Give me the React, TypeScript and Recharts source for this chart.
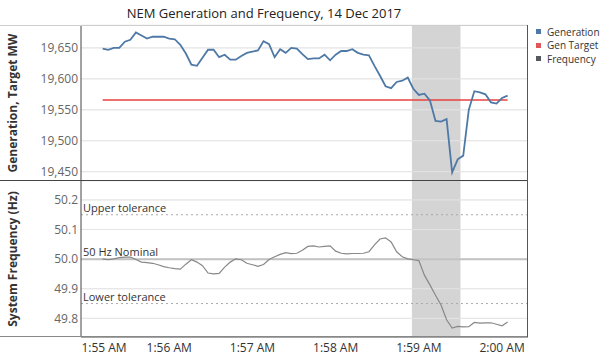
import React from 'react';
import {
  LineChart,
  Line,
  XAxis,
  YAxis,
  CartesianGrid,
  ReferenceArea,
  ReferenceLine,
  Legend,
} from 'recharts';

// seconds after 1:55:00 AM, 4-second SCADA samples
const SECONDS = [
  12, 16, 20, 24, 28, 32, 36, 40, 44, 48, 52, 56, 60, 64, 68, 72, 76, 80, 84, 88,
  92, 96, 100, 104, 108, 112, 116, 120, 124, 128, 132, 136, 140, 144, 148, 152, 156, 160, 164, 168,
  172, 176, 180, 184, 188, 192, 196, 200, 204, 208, 212, 216, 220, 224, 228, 232, 236, 240, 244, 248,
  252, 256, 260, 264, 268, 272, 276, 280, 284, 288, 292, 296, 300, 304,
];

const GENERATION = [
  19649, 19647, 19650, 19650, 19660, 19663, 19675, 19670, 19665, 19668, 19668, 19668, 19665, 19664,
  19655, 19641, 19623, 19621, 19634, 19647, 19647, 19635, 19639, 19631, 19631, 19637,
  19642, 19644, 19646, 19661, 19656, 19635, 19648, 19642, 19650, 19649, 19640, 19632, 19633, 19633,
  19639, 19630, 19639, 19645, 19645, 19648, 19642, 19639, 19638,
  19621, 19605,
  19588, 19585, 19595, 19597, 19602, 19584, 19574, 19576, 19565, 19532, 19531, 19535, 19449, 19470,
  19476, 19550, 19580, 19578, 19575, 19562, 19560, 19569, 19573,
];

const GEN_TARGET = 19566;

const FREQUENCY = [
  50.001, 49.998, 50.001, 50.005, 50.007, 50.007, 49.999, 49.99, 49.988, 49.986, 49.981, 49.975, 49.971, 49.968,
  49.966, 49.983, 49.998, 49.99, 49.978, 49.953, 49.95, 49.952, 49.973, 49.99, 50.001, 49.998, 49.986, 49.981,
  49.976, 49.982, 49.999, 50.008, 50.016, 50.022, 50.019, 50.02, 50.03, 50.043, 50.045, 50.041, 50.043, 50.045,
  50.027, 50.02, 50.018, 50.019, 50.019, 50.02, 50.025, 50.048, 50.068, 50.072, 50.058, 50.025, 50.008, 50.001,
  49.998, 49.995, 49.946, 49.913, 49.878, 49.845, 49.795, 49.767, 49.773, 49.771, 49.772, 49.786, 49.784, 49.785,
  49.785, 49.78, 49.775, 49.788,
];

const TIME_TICKS = [0, 60, 120, 180, 240, 300];
const TIME_LABELS = ['1:55 AM', '1:56 AM', '1:57 AM', '1:58 AM', '1:59 AM', '2:00 AM'];
const GEN_TICKS = [19450, 19500, 19550, 19600, 19650];
const FREQ_TICKS = [49.8, 49.9, 50.0, 50.1, 50.2];
const EVENT_WINDOW = [235, 270];
const TOLERANCES = [
  { value: 50.15, label: 'Upper tolerance', dashed: true },
  { value: 50.0, label: '50 Hz Nominal', dashed: false },
  { value: 49.85, label: 'Lower tolerance', dashed: true },
];

const LEGEND = [
  { name: 'Generation', color: '#4e79a7' },
  { name: 'Gen Target', color: '#e15759' },
  { name: 'Frequency', color: '#555a60' },
];

const rows = SECONDS.map((t, i) => ({
  t,
  gen: GENERATION[i],
  target: GEN_TARGET,
  freq: FREQUENCY[i],
}));

const FONT = '"Open Sans", sans-serif';
const X_DOMAIN = [-3.6, 318.7];

const axisTitle = (text: string) => (props: any) => {
  const { viewBox } = props;
  const cx = 12;
  const cy = viewBox.y + viewBox.height / 2;
  return (
    <text
      x={cx}
      y={cy}
      transform={`rotate(-90 ${cx} ${cy})`}
      textAnchor="middle"
      dominantBaseline="central"
      fontSize={12}
      fontWeight="bold"
      fill="#333"
      fontFamily={FONT}
    >
      {text}
    </text>
  );
};

const refLabel = (text: string) => (props: any) => {
  const { viewBox } = props;
  return (
    <text x={viewBox.x + 2} y={viewBox.y - 3} fontSize={11} fill="#333" fontFamily={FONT}>
      {text}
    </text>
  );
};

const TimeTick = (props: any) => {
  const { x, y, payload } = props;
  const idx = TIME_TICKS.indexOf(payload.value);
  return (
    <text
      x={x + (idx === 0 ? 18 : 0)}
      y={y + 13}
      textAnchor="middle"
      fontSize={12}
      fill="#333"
      fontFamily={FONT}
    >
      {TIME_LABELS[idx]}
    </text>
  );
};

const LegendBox = () => (
  <div style={{ fontFamily: FONT, fontSize: 10, color: '#333', whiteSpace: 'nowrap' }}>
    {LEGEND.map((item) => (
      <div key={item.name} style={{ display: 'flex', alignItems: 'center', height: 13.5 }}>
        <span style={{ width: 5, height: 5, background: item.color, marginRight: 6, flexShrink: 0 }} />
        {item.name}
      </div>
    ))}
  </div>
);

const line = (style: React.CSSProperties) => (
  <div style={{ position: 'absolute', ...style }} />
);

export default function App() {
  return (
    <div
      style={{
        position: 'absolute',
        left: 0,
        top: 0,
        width: 602,
        height: 356,
        background: '#fff',
        fontFamily: FONT,
        overflow: 'hidden',
      }}
    >
      <div
        style={{
          position: 'absolute',
          left: 0,
          width: 528,
          top: 4,
          textAlign: 'center',
          fontSize: 13,
          color: '#222',
        }}
      >
        NEM Generation and Frequency, 14 Dec 2017
      </div>

      <div style={{ position: 'absolute', left: 0, top: 0 }}>
        <LineChart width={602} height={181} data={rows} margin={{ top: 25, right: 74, bottom: 0, left: 0 }}>
          <CartesianGrid vertical={false} stroke="#efefef" />
          <XAxis dataKey="t" type="number" domain={X_DOMAIN} hide allowDataOverflow />
          <YAxis
            width={81}
            domain={[19435, 19687]}
            ticks={GEN_TICKS}
            allowDataOverflow
            tickFormatter={(v) => v.toLocaleString('en-US')}
            tick={{ fill: '#666', fontSize: 12, fontFamily: FONT }}
            tickLine={false}
            tickSize={0}
            tickMargin={3}
            axisLine={{ stroke: '#444' }}
            label={{ content: axisTitle('Generation, Target MW') }}
          />
          <ReferenceArea x1={EVENT_WINDOW[0]} x2={EVENT_WINDOW[1]} fill="#d4d4d4" fillOpacity={1} />
          {GEN_TICKS.map((v) => (
            <ReferenceLine key={v} y={v} stroke="#e4e4e4" />
          ))}
          <Line
            dataKey="target"
            stroke="#e8413f"
            strokeWidth={1.5}
            dot={false}
            isAnimationActive={false}
          />
          <Line
            dataKey="gen"
            stroke="#4e79a7"
            strokeWidth={1.8}
            dot={false}
            isAnimationActive={false}
          />
          <Legend
            layout="horizontal"
            verticalAlign="middle"
            content={LegendBox}
            wrapperStyle={{ left: 536, top: 25, width: 66 }}
          />
        </LineChart>
      </div>

      <div style={{ position: 'absolute', left: 0, top: 181 }}>
        <LineChart width={602} height={175} data={rows} margin={{ top: 0, right: 74, bottom: 0, left: 0 }}>
          <CartesianGrid vertical={false} stroke="#efefef" />
          <XAxis
            dataKey="t"
            type="number"
            domain={X_DOMAIN}
            ticks={TIME_TICKS}
            allowDataOverflow
            height={19}
            tickLine={false}
            tickSize={0}
            axisLine={{ stroke: '#555' }}
            tick={TimeTick}
          />
          <YAxis
            width={81}
            domain={[49.737, 50.264]}
            ticks={FREQ_TICKS}
            allowDataOverflow
            tickFormatter={(v) => v.toFixed(1)}
            tick={{ fill: '#666', fontSize: 12, fontFamily: FONT }}
            tickLine={false}
            tickSize={0}
            tickMargin={3}
            axisLine={{ stroke: '#444' }}
            label={{ content: axisTitle('System Frequency (Hz)') }}
          />
          <ReferenceArea x1={EVENT_WINDOW[0]} x2={EVENT_WINDOW[1]} fill="#d4d4d4" fillOpacity={1} />
          {FREQ_TICKS.map((v) => (
            <ReferenceLine key={v} y={v} stroke="#e4e4e4" />
          ))}
          {TOLERANCES.map((r) => (
            <ReferenceLine
              key={r.label}
              y={r.value}
              stroke={r.dashed ? '#aaa' : '#c2c2c2'}
              strokeWidth={r.dashed ? 1 : 2}
              strokeDasharray={r.dashed ? '2 3' : undefined}
              label={{ content: refLabel(r.label) }}
            />
          ))}
          <Line
            dataKey="freq"
            stroke="#888"
            strokeWidth={1.2}
            dot={false}
            isAnimationActive={false}
          />
        </LineChart>
      </div>

      {line({ left: 0, top: 25, width: 528, height: 1, background: '#cfcfcf' })}
      {line({ left: 0, top: 180, width: 528, height: 1, background: '#444' })}
      {line({ left: 0, top: 336, width: 528, height: 1, background: '#888' })}
      {line({ left: 527, top: 25, width: 1, height: 312, background: '#555' })}
    </div>
  );
}
